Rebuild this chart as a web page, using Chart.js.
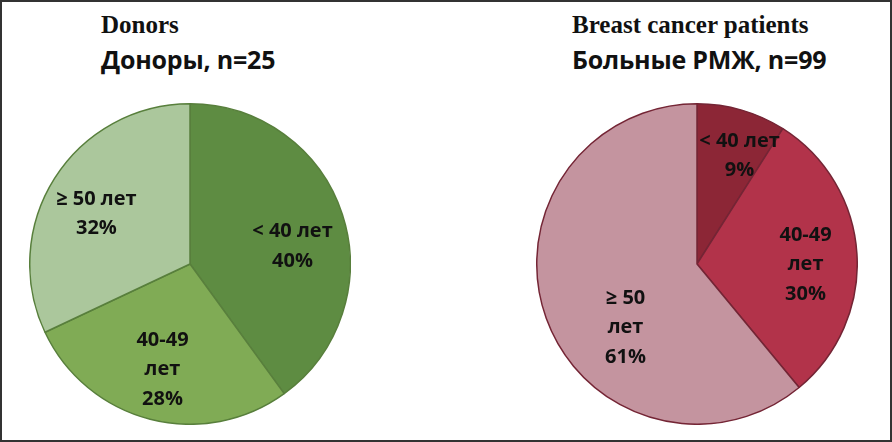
<!DOCTYPE html>
<html>
<head>
<meta charset="utf-8">
<script src="https://cdn.jsdelivr.net/npm/chart.js@4"></script>
<style>
  html, body { margin: 0; padding: 0; background: #fff; }
  #frame { position: relative; width: 888px; height: 438px; border: 2px solid #333; overflow: hidden; }
  .t1 { position: absolute; font: bold 25px "Liberation Serif", "DejaVu Serif", serif; color: #111; white-space: nowrap; }
  .t2 { position: absolute; font: bold 25px "Open Sans", "Liberation Sans", sans-serif; color: #111; white-space: nowrap; letter-spacing: -0.2px; }
  canvas { position: absolute; }
</style>
</head>
<body>
<div id="frame">
  <div class="t1" style="left:99px; top:9px;">Donors</div>
  <div class="t2" style="left:99px; top:40px;">Доноры, n=25</div>
  <div class="t1" style="left:570px; top:9px;">Breast cancer patients</div>
  <div class="t2" style="left:570px; top:40px;">Больные РМЖ, n=99</div>
  <canvas id="donors" width="322" height="322" style="left:27px; top:101px;"></canvas>
  <canvas id="patients" width="322" height="322" style="left:534px; top:101px;"></canvas>
</div>
<script>
const categories = ['< 40 лет', '40-49 лет', '≥ 50 лет'];
const donorValues = [40, 28, 32];
const patientValues = [9, 30, 61];
const donorLabelLines = [['< 40 лет'], ['40-49', 'лет'], ['≥ 50 лет']];
const patientLabelLines = [['< 40 лет'], ['40-49', 'лет'], ['≥ 50', 'лет']];

// draws the text inside each slice
const sliceLabels = {
  id: 'sliceLabels',
  afterDatasetsDraw(chart, args, opts) {
    const ctx = chart.ctx;
    const meta = chart.getDatasetMeta(0);
    const values = chart.data.datasets[0].data;
    ctx.save();
    ctx.font = 'bold 20px "Open Sans", "Liberation Sans", sans-serif';
    ctx.fillStyle = '#111';
    ctx.textAlign = 'center';
    ctx.textBaseline = 'middle';
    meta.data.forEach((arc, i) => {
      const p = arc.getProps(['x', 'y', 'startAngle', 'endAngle', 'outerRadius'], true);
      const mid = (p.startAngle + p.endAngle) / 2;
      const f = opts.radius[i];
      const cx = p.x + Math.cos(mid) * p.outerRadius * f + opts.shift[i][0];
      const cy = p.y + Math.sin(mid) * p.outerRadius * f + opts.shift[i][1];
      const lines = opts.lines[i].concat([values[i] + '%']);
      const lh = 29.5;
      lines.forEach((s, k) => {
        ctx.fillText(s, cx, cy + (k - (lines.length - 1) / 2) * lh);
      });
    });
    ctx.restore();
  }
};

function makePie(id, values, colors, border, lines, radius, shift) {
  return new Chart(document.getElementById(id), {
    type: 'pie',
    data: {
      labels: categories,
      datasets: [{
        data: values,
        backgroundColor: colors,
        borderColor: border,
        borderWidth: 1.5
      }]
    },
    options: {
      responsive: false,
      animation: false,
      layout: { padding: 0 },
      plugins: {
        legend: { display: false },
        tooltip: { enabled: false },
        sliceLabels: { lines: lines, radius: radius, shift: shift }
      }
    },
    plugins: [sliceLabels]
  });
}

makePie('donors', donorValues, ['#5e8c42', '#80ab55', '#abc79c'], '#587f3c',
  donorLabelLines, [0.62, 0.64, 0.64], [[8, 13], [-2, 6], [-7, 5]]);
makePie('patients', patientValues, ['#8c2636', '#b2334a', '#c4949f'], '#742535',
  patientLabelLines, [0.75, 0.66, 0.62], [[9, 7], [3, 7], [22, 30]]);
</script>
</body>
</html>
